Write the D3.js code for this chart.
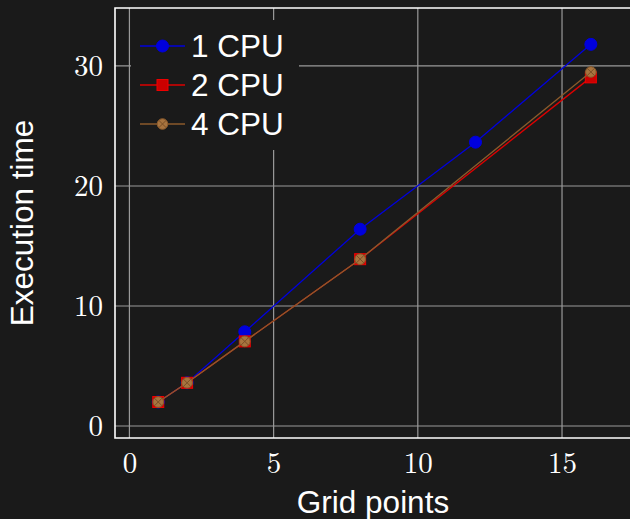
<!DOCTYPE html>
<html>
<head>
<meta charset="utf-8">
<script src="https://cdn.jsdelivr.net/npm/d3@7"></script>
<style>
  body { margin: 0; background: #1a1a1a; }
  svg { display: block; }
</style>
</head>
<body>
<svg width="630" height="519"></svg>
<script>
const svg = d3.select('svg');
svg.style('background-color', '#1a1a1a');

// data
const gridPoints1 = [1, 2, 4, 8, 12, 16];
const time1 = [2.0, 3.6, 7.85, 16.4, 23.65, 31.8];
const gridPoints2 = [1, 2, 4, 8, 16];
const time2 = [2.0, 3.6, 7.05, 13.9, 29.05];
const gridPoints4 = [1, 2, 4, 8, 16];
const time4 = [2.0, 3.6, 7.05, 13.9, 29.5];
const seriesNames = ['1 CPU', '2 CPU', '4 CPU'];
const xTicks = [0, 5, 10, 15];
const yTicks = [0, 10, 20, 30];

const frame = {left: 115, top: 8, bottom: 438, right: 637};

const xScale = d3.scaleLinear().domain([-0.5, 17.6]).range([frame.left, frame.right]);
const yScale = d3.scaleLinear().domain([-1, 34.83]).range([frame.bottom, frame.top]);

const serif = "'Latin Modern Roman', 'DejaVu Serif', 'Liberation Serif', serif";
const sans = "'Liberation Sans', Arial, sans-serif";

// grid
const grid = svg.append('g').attr('stroke', '#9a9a9a').attr('stroke-width', 1.2);
grid.selectAll('.vx').data(xTicks).enter().append('line')
    .attr('x1', d => xScale(d)).attr('x2', d => xScale(d))
    .attr('y1', frame.top).attr('y2', frame.bottom);
grid.selectAll('.hy').data(yTicks).enter().append('line')
    .attr('x1', frame.left).attr('x2', frame.right)
    .attr('y1', d => yScale(d)).attr('y2', d => yScale(d));

// tick labels via axes
const xAxis = svg.append('g')
    .attr('transform', `translate(0,${frame.bottom})`)
    .call(d3.axisBottom(xScale).tickValues(xTicks).tickSize(0).tickPadding(14).tickFormat(d3.format('d')));
const yAxis = svg.append('g')
    .attr('transform', `translate(${frame.left},0)`)
    .call(d3.axisLeft(yScale).tickValues(yTicks).tickSize(0).tickPadding(12).tickFormat(d3.format('d')));
[xAxis, yAxis].forEach(a => {
  a.select('.domain').remove();
  a.selectAll('text').attr('fill', '#ffffff').style('font-family', serif).style('font-size', '29px');
});

// frame (top, left, bottom)
svg.append('path')
    .attr('d', `M${frame.right},${frame.top}H${frame.left}V${frame.bottom}H${frame.right}`)
    .attr('fill', 'none').attr('stroke', '#ffffff').attr('stroke-width', 1.6);

const line = d3.line().x(d => xScale(d[0])).y(d => yScale(d[1]));
const zip = (xs, ys) => xs.map((x, i) => [x, ys[i]]);

const series = [
  {name: seriesNames[0], pts: zip(gridPoints1, time1), color: '#0000dd', marker: 'circle'},
  {name: seriesNames[1], pts: zip(gridPoints2, time2), color: '#dd0000', marker: 'square'},
  {name: seriesNames[2], pts: zip(gridPoints4, time4), color: '#8b5a2b', marker: 'otimes'}
];

function drawMarker(g, type, x, y) {
  if (type === 'circle') {
    g.append('circle').attr('cx', x).attr('cy', y).attr('r', 6)
        .attr('fill', '#0000dd').attr('stroke', '#0000dd');
  } else if (type === 'square') {
    g.append('rect').attr('x', x - 5.5).attr('y', y - 5.5).attr('width', 11).attr('height', 11)
        .attr('fill', '#cc0000').attr('stroke', '#ee0000').attr('stroke-width', 1);
  } else {
    const r = 5.3;
    g.append('circle').attr('cx', x).attr('cy', y).attr('r', r)
        .attr('fill', '#a8743f').attr('stroke', '#8b5a2b').attr('stroke-width', 1);
    const k = r * Math.SQRT1_2;
    g.append('path')
        .attr('d', `M${x - k},${y - k}L${x + k},${y + k}M${x - k},${y + k}L${x + k},${y - k}`)
        .attr('stroke', '#7a4f26').attr('stroke-width', 1);
  }
}

series.forEach(s => {
  const g = svg.append('g');
  g.append('path').datum(s.pts).attr('d', line)
      .attr('fill', 'none').attr('stroke', s.color).attr('stroke-width', 1.3);
  s.pts.forEach(p => drawMarker(g, s.marker, xScale(p[0]), yScale(p[1])));
});

// legend
const legend = svg.append('g');
legend.append('rect').attr('x', 131).attr('y', 20).attr('width', 168).attr('height', 130)
    .attr('fill', '#1a1a1a');
series.forEach((s, i) => {
  const y = 46 + i * 39;
  legend.append('line').attr('x1', 140).attr('x2', 185).attr('y1', y).attr('y2', y)
      .attr('stroke', s.color).attr('stroke-width', 1.3);
  drawMarker(legend, s.marker, 162.5, y);
  legend.append('text').attr('x', 191).attr('y', y).attr('dy', '0.36em')
      .attr('fill', '#ffffff').style('font-family', sans).style('font-size', '31.5px')
      .text(s.name);
});

// axis titles
svg.append('text').attr('x', 373).attr('y', 513)
    .attr('text-anchor', 'middle').attr('fill', '#ffffff')
    .style('font-family', sans).style('font-size', '31.5px').text('Grid points');
svg.append('text').attr('transform', 'translate(33,223) rotate(-90)')
    .attr('text-anchor', 'middle').attr('fill', '#ffffff')
    .style('font-family', sans).style('font-size', '31.5px').text('Execution time');
</script>
</body>
</html>
